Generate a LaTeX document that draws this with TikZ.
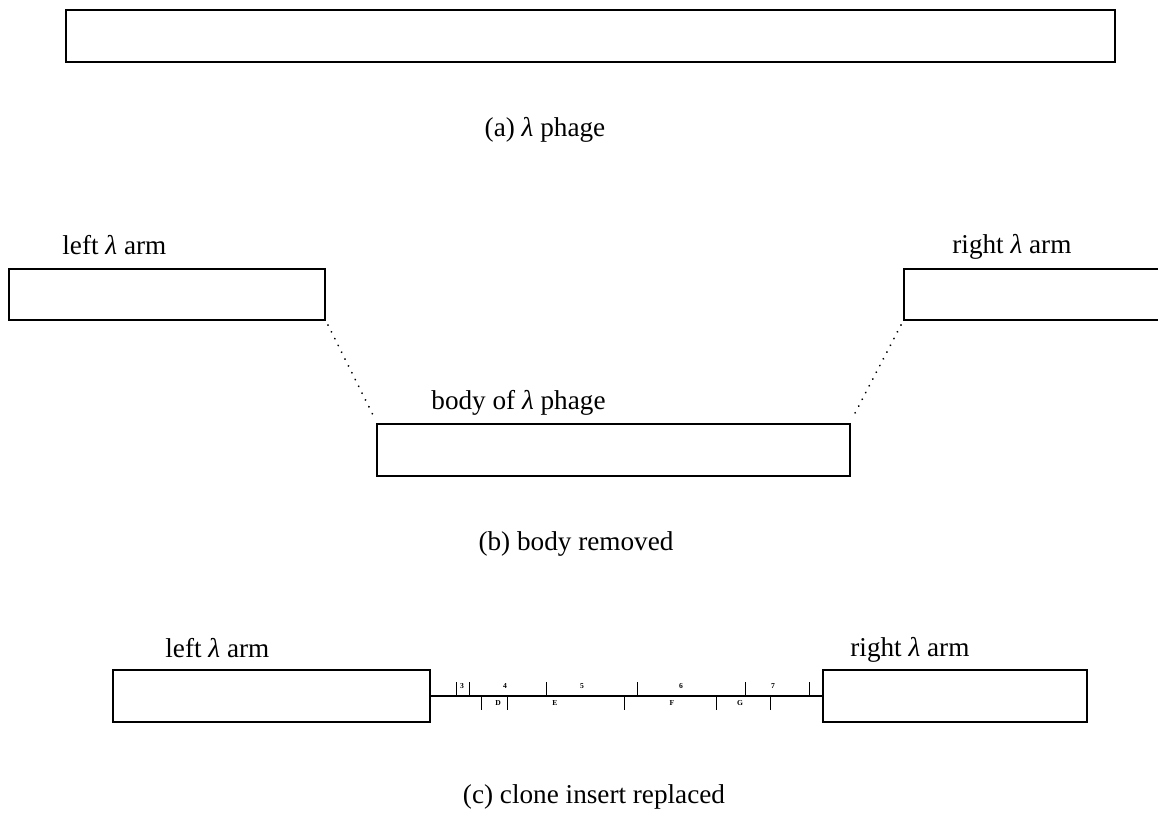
\documentclass[tikz,border=0pt]{standalone}
\usepackage{fontspec}
\setmainfont{Liberation Serif}
\usetikzlibrary{fit}
\newcommand{\lam}{{\itshape λ}}
\begin{document}
\begin{tikzpicture}[x=0.5pt,y=0.5pt,
  box/.style={draw, line width=1pt, inner sep=0pt},
  lbl/.style={inner sep=0pt, font=\fontsize{13.6}{15}\selectfont},
  tickline/.style={line width=0.5pt},
  tiny/.style={inner sep=0pt, anchor=center, font=\fontsize{3.8}{4}\selectfont\bfseries},
  dots/.style={line width=1pt, dash pattern=on 0.01pt off 3.8pt, line cap=round}]
\useasboundingbox (0,0) rectangle (1158,-819);
\clip (0,0) rectangle (1158,-819);
% (a)
\coordinate (a1) at (66,-10); \coordinate (a2) at (1115,-62);
\node[box, fit={(a1)(a2)}] (phage) {};
\node[lbl, anchor=base] (capa) at (545,-136) {(a) \lam\ phage};
% (b)
\coordinate (b1) at (9,-269); \coordinate (b2) at (325,-320);
\node[box, fit={(b1)(b2)}] (larm) {};
\coordinate (b3) at (904,-269); \coordinate (b4) at (1175,-320);
\node[box, fit={(b3)(b4)}] (rarm) {};
\coordinate (b5) at (377,-424); \coordinate (b6) at (850,-476);
\node[box, fit={(b5)(b6)}] (body) {};
\node[lbl, anchor=base west] (larmlbl) at (62,-254) {left \lam\ arm};
\node[lbl, anchor=base west] (rarmlbl) at (952,-253) {right \lam\ arm};
\node[lbl, anchor=base west] (bodylbl) at (431,-409) {body of \lam\ phage};
\node[lbl, anchor=base] (capb) at (576,-550) {(b) body removed};
\draw[dots] ([xshift=1pt,yshift=-2pt]larm.south east) -- ([xshift=-1pt,yshift=3pt]body.north west);
\draw[dots] ([xshift=-1pt,yshift=-2pt]rarm.south west) -- ([xshift=1pt,yshift=3pt]body.north east);
% (c)
\coordinate (c1) at (113,-670); \coordinate (c2) at (430,-722);
\node[box, fit={(c1)(c2)}] (larmc) {};
\coordinate (c3) at (823,-670); \coordinate (c4) at (1087,-722);
\node[box, fit={(c3)(c4)}] (rarmc) {};
\node[lbl, anchor=base west] (larmclbl) at (165,-657) {left \lam\ arm};
\node[lbl, anchor=base west] (rarmclbl) at (850,-656) {right \lam\ arm};
\node[lbl, anchor=base] (capc) at (594,-803) {(c) clone insert replaced};
\draw[line width=0.6pt] (larmc.east) -- (rarmc.west);
\foreach \x in {456,469,546,637,745,809} \draw[tickline] (\x,-696) -- (\x,-682);
\foreach \x in {481,507,624,716,770} \draw[tickline] (\x,-696) -- (\x,-710);
\foreach \x/\t in {462/3,505/4,582/5,681/6,773/7} \node[tiny] (t\t) at (\x,-686) {\t};
\foreach \x/\t in {498/D,555/E,672/F,740/G} \node[tiny] (t\t) at (\x,-703) {\t};
\end{tikzpicture}
\end{document}
